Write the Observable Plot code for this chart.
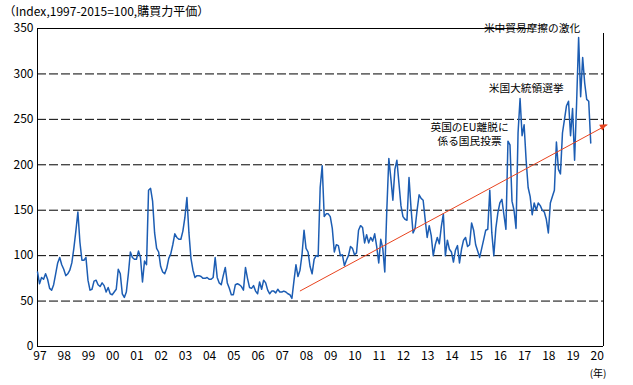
<!DOCTYPE html>
<html><head><meta charset="utf-8">
<script src="https://cdn.jsdelivr.net/npm/d3@7"></script>
<script src="https://cdn.jsdelivr.net/npm/@observablehq/plot@0.6"></script>
<style>html,body{margin:0;padding:0;background:#fff}</style>
</head><body><div id="chart"></div>
<script>
// Monthly index values, Jan 1997 onward (Index, 1997-2015=100, PPP weighted)
const startYear = 1997;
const values = [
82,69,76,74,80,74,64,62,68,80,92,98,
90,85,78,80,84,92,108,127,148,115,95,95,
98,73,62,63,72,73,68,66,70,67,60,65,
58,57,60,63,85,80,58,54,60,80,104,98,
96,96,105,98,71,94,90,172,174,160,125,108,
104,88,82,80,86,97,102,112,124,120,118,118,
127,142,164,125,97,84,76,78,78,77,75,75,
76,74,74,76,98,76,70,68,78,87,70,64,
57,57,68,69,68,66,62,87,75,65,64,67,
61,58,71,63,73,70,62,58,61,61,59,63,
60,60,61,60,58,57,53,72,90,77,84,101,
128,108,104,88,80,96,100,99,175,199,143,146,
146,143,130,104,112,111,100,101,89,95,100,110,
108,101,103,128,133,131,114,123,114,120,116,124,
110,92,118,108,82,150,207,185,161,195,205,180,
155,143,140,139,186,152,125,130,150,167,163,161,
140,120,133,122,100,112,120,113,132,146,100,117,
107,104,93,106,111,92,107,117,120,110,112,136,
128,112,105,98,108,118,128,129,172,125,100,130,
147,158,162,145,129,226,222,160,150,130,235,273,
232,244,205,175,165,145,158,150,158,155,150,148,
140,125,158,165,172,225,195,190,235,250,265,270,
232,262,205,268,340,275,318,290,272,270,224
];
const yTicks = [0, 50, 100, 150, 200, 250, 300, 350];
const gridValues = [50, 100, 150, 200, 250, 300];
const xTickYears = d3.range(1997, 2021);
const xTickLabels = xTickYears.map(y => String(y % 100).padStart(2, "0"));
const xDomain = [1997, 2020.36];
const yDomain = [0, 350];
const titleText = "（Index,1997-2015=100,購買力平価）";
const unitText = "(年)";
// trend arrow (drawn by hand in the original)
const trend = [{x1: 2007.83, y1: 61, x2: 2020.52, y2: 244}];
// annotations
const notes = [
  {x: 2017.41, y: 351.1, text: "米中貿易摩擦の激化", anchor: "start"},
  {x: 2017.17, y: 284.5, text: "米国大統領選挙", anchor: "middle"},
  {x: 2014.83, y: 233.9, text: "英国のEU離脱に\n係る国民投票", anchor: "middle"}
];
const topLineEnd = 2017.38;
const rightLineTop = 344.5;

const data = values.map((v, i) => ({date: startYear + i / 12, value: v}));
const tickLabelOf = d => xTickLabels[xTickYears.indexOf(d)];

const font = "'Noto Sans CJK JP', 'Noto Sans', sans-serif";
const chart = Plot.plot({
  width: 633,
  height: 385,
  marginLeft: 37,
  marginRight: 30,
  marginTop: 28,
  marginBottom: 39,
  x: {domain: xDomain, axis: null},
  y: {domain: yDomain, axis: null},
  style: {fontFamily: font, fontSize: "12px", background: "#fff", color: "#000", overflow: "visible"},
  marks: [
    Plot.ruleY(gridValues, {stroke: "#000", strokeWidth: 1, strokeDasharray: "9,3"}),
    // frame
    Plot.ruleX([xDomain[0]], {y1: yDomain[0], y2: yDomain[1], stroke: "#000"}),
    Plot.ruleY([yDomain[0]], {x1: xDomain[0], x2: xDomain[1], stroke: "#000"}),
    Plot.ruleY([yDomain[1]], {x1: xDomain[0], x2: topLineEnd, stroke: "#000"}),
    Plot.ruleX([xDomain[1]], {y1: yDomain[0], y2: rightLineTop, stroke: "#000"}),
    Plot.axisY(yTicks, {tickSize: 0, tickPadding: 4, label: null, fontSize: 12, fill: "#000"}),
    Plot.axisX(xTickYears, {tickSize: 0, tickPadding: 5, label: null, fontSize: 12, dx: 2.5, tickFormat: tickLabelOf, fill: "#000"}),
    Plot.line(data, {x: "date", y: "value", stroke: "#1c5db3", strokeWidth: 1.5}),
    Plot.link(trend, {x1: "x1", y1: "y1", x2: "x2", y2: "y2", stroke: "#e8431e", strokeWidth: 1}),
    Plot.text(notes, {x: "x", y: "y", text: "text", textAnchor: d => d.anchor, fontSize: 10.7, lineHeight: 1.3, fill: "#000"}),
    Plot.text([titleText], {frameAnchor: "top-left", lineAnchor: "middle", dx: -34, dy: -16, textAnchor: "start", fontSize: 12, fill: "#000"}),
    Plot.text([unitText], {frameAnchor: "bottom-right", dx: 3, dy: 30, textAnchor: "end", fontSize: 10, fill: "#000"})
  ]
});

// filled arrow head at the end of the trend line, positioned via Plot's scales
const sx = chart.scale("x"), sy = chart.scale("y");
trend.forEach(t => {
  const p1 = [sx.apply(t.x1), sy.apply(t.y1)];
  const p2 = [sx.apply(t.x2), sy.apply(t.y2)];
  const len = Math.hypot(p2[0] - p1[0], p2[1] - p1[1]);
  const u = [(p2[0] - p1[0]) / len, (p2[1] - p1[1]) / len];
  const n = [-u[1], u[0]];
  const L = 7, w = 3.2;
  const b = [p2[0] - L * u[0], p2[1] - L * u[1]];
  const pts = [p2, [b[0] + w * n[0], b[1] + w * n[1]], [b[0] - w * n[0], b[1] - w * n[1]]];
  d3.select(chart).append("path")
    .attr("d", "M" + pts.map(p => p.join(",")).join("L") + "Z")
    .attr("fill", "#e8431e");
});

document.getElementById("chart").appendChild(chart);
</script>
</body></html>
